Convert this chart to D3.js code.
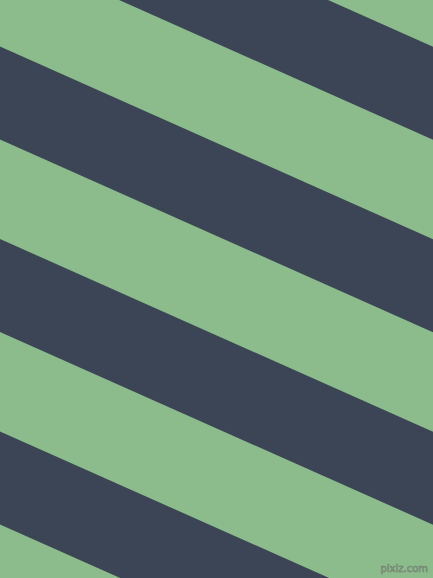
<!DOCTYPE html>
<html><head><meta charset="utf-8">
<script src="https://cdn.jsdelivr.net/npm/d3@7"></script>
<style>html,body{margin:0;padding:0;overflow:hidden;background:#8CBC8B}svg{display:block}</style>
</head><body>
<svg id="c" width="433" height="578"></svg>
<script>
// Band indices (dark stripes) and their band positions in stripe-period units
const bands = [-1, 0, 1, 2, 3];
const bandColors = ["#8CBC8B", "#3B4555"]; // background, stripe
const slope = [0.445];         // stripe rise per unit x
const period = [192.5];        // vertical period of stripes
const darkShare = [93];        // vertical thickness of dark stripe
const watermark = ["pixiz.com"];

const W = 433, H = 578;
const svg = d3.select("#c");
const x = d3.scaleLinear().domain([0, 1]).range([0, W]);
const y = d3.scaleLinear().domain([0, 1]).range([46.5, 46.5 + period[0]]);

svg.append("rect").attr("width", W).attr("height", H).attr("fill", bandColors[0]);

const line = d3.line().x(d => d[0]).y(d => d[1]);
svg.selectAll("path.band").data(bands).join("path")
  .attr("class", "band")
  .attr("fill", bandColors[1])
  .attr("d", k => {
    const c = y(k);
    const dy = slope[0] * x(1);
    return line([[x(0), c], [x(1), c + dy], [x(1), c + dy + darkShare[0]], [x(0), c + darkShare[0]]]) + "Z";
  });

svg.append("text").text(watermark[0])
  .attr("x", 428).attr("y", 572).attr("text-anchor", "end")
  .attr("font-family", "DejaVu Sans, sans-serif").attr("font-size", 10)
  .attr("fill", "#9aa59a").attr("stroke", "#6c7a6c").attr("stroke-width", 0.6)
  .attr("opacity", 0.85);
</script>
</body></html>
